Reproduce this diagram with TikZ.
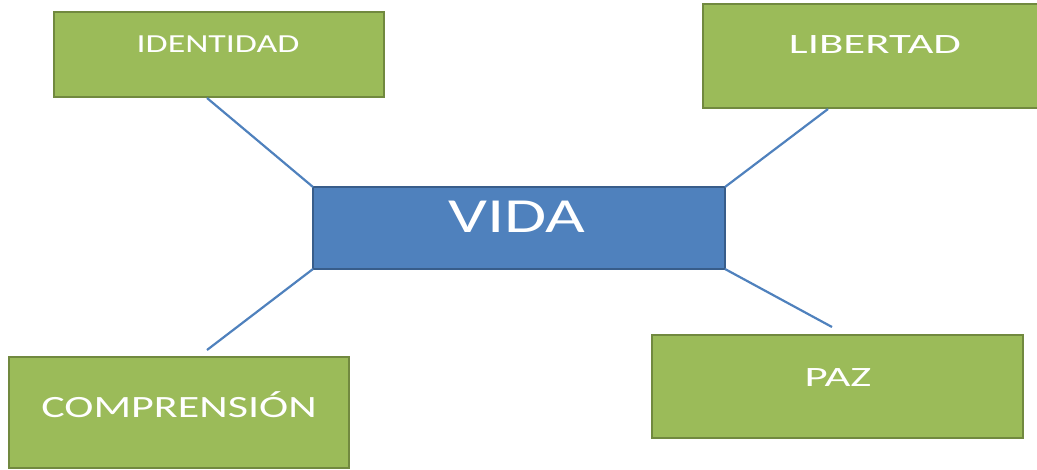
\documentclass[tikz,border=0pt]{standalone}
\usepackage{graphicx}
\usepackage{fontspec}
\setmainfont{Carlito}
\definecolor{boxgreen}{HTML}{9BBB59}
\definecolor{boxgreenline}{HTML}{71893F}
\definecolor{boxblue}{HTML}{4F81BD}
\definecolor{boxblueline}{HTML}{385D8A}
\begin{document}
\begin{tikzpicture}[x=1pt,y=-1pt,
  greenbox/.style={draw=boxgreenline,line width=1.8pt,fill=boxgreen},
  bluebox/.style={draw=boxblueline,line width=1.8pt,fill=boxblue},
  label/.style={anchor=base,text=white,inner sep=0pt},
  link/.style={draw=boxblue,line width=2.2pt}]
\useasboundingbox (0,0) rectangle (1037,469);
% boxes
\path[greenbox] (54,12) rectangle (384,97);
\path[greenbox] (703,4) rectangle (1045,108);
\path[bluebox] (313,187) rectangle (725,269);
\path[greenbox] (9,357) rectangle (349,468);
\path[greenbox] (652,335) rectangle (1023,438);
\node[coordinate] (vida-nw) at (313,187) {};
\node[coordinate] (vida-ne) at (725,187) {};
\node[coordinate] (vida-sw) at (313,269) {};
\node[coordinate] (vida-se) at (725,269) {};
\node[coordinate] (identidad-s) at (207,98) {};
\node[coordinate] (libertad-s) at (828,109) {};
\node[coordinate] (comprension-n) at (207,350) {};
\node[coordinate] (paz-n) at (832,327) {};
% texts
\node[label,font=\fontsize{26}{26}\selectfont] (identidad) at (218,52) {\scalebox{1.38}[1]{IDENTIDAD}};
\node[label,font=\fontsize{28}{28}\selectfont] (libertad) at (875,53) {\scalebox{1.6}[1]{LIBERTAD}};
\node[label,font=\fontsize{49}{49}\selectfont] (vida) at (517,232) {\scalebox{1.4}[1]{VIDA}};
\node[label,font=\fontsize{31}{31}\selectfont] (comprension) at (179,417) {\scalebox{1.42}[1]{COMPRENSIÓN}};
\node[label,font=\fontsize{28}{28}\selectfont] (paz) at (838,386) {\scalebox{1.6}[1]{PAZ}};
% connectors
\draw[link] (identidad-s) -- (vida-nw);
\draw[link] (libertad-s) -- (vida-ne);
\draw[link] (comprension-n) -- (vida-sw);
\draw[link] (paz-n) -- (vida-se);
\end{tikzpicture}
\end{document}
